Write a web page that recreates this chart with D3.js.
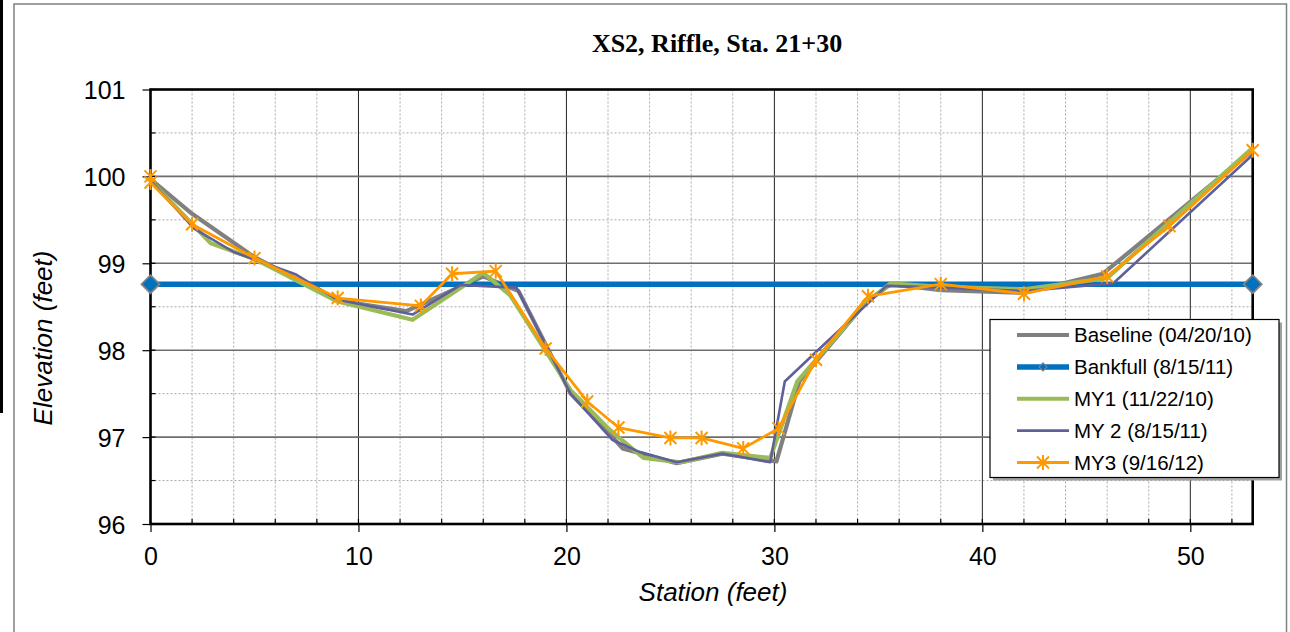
<!DOCTYPE html>
<html><head><meta charset="utf-8">
<script src="https://cdn.jsdelivr.net/npm/d3@7"></script>
<style>body{margin:0;background:#fff;overflow:hidden}</style>
</head><body>
<svg id="c" width="1290" height="632"></svg>
<script>
const chartTitle = "XS2, Riffle, Sta. 21+30";
const xTitle = "Station (feet)";
const yTitle = "Elevation (feet)";
const xTicks = [0, 10, 20, 30, 40, 50];
const yTicks = [96, 97, 98, 99, 100, 101];
const xDomain = [0, 53];
const yDomain = [96, 101];
const legendLabels = ["Baseline (04/20/10)", "Bankfull (8/15/11)", "MY1 (11/22/10)", "MY 2 (8/15/11)", "MY3 (9/16/12)"];

const baseline = [[0,99.97],[2,99.57],[5,99.07],[9,98.57],[12.3,98.45],[14.9,98.73],[16,98.85],[17.7,98.68],[20.2,97.5],[22.1,97.03],[22.7,96.87],[25.3,96.7],[27.5,96.81],[30.1,96.72],[31.2,97.64],[34.4,98.55],[35.6,98.76],[38,98.69],[42,98.66],[45.8,98.88],[53,100.3]];
const bankfull = [[0,98.76],[53,98.76]];
const my1 = [[0,99.95],[2.9,99.23],[5,99.05],[9,98.56],[12.6,98.35],[16,98.89],[17.3,98.63],[20.2,97.54],[22.1,97.08],[23.7,96.76],[25.5,96.71],[27.5,96.82],[29.8,96.76],[31.1,97.64],[34.4,98.55],[35.6,98.77],[38,98.73],[42,98.7],[46,98.83],[53,100.33]];
const my2 = [[0,99.95],[2.1,99.4],[4,99.13],[7,98.87],[9,98.58],[12.6,98.41],[14.9,98.75],[17.6,98.72],[20.2,97.5],[22.2,96.97],[23.5,96.83],[25.3,96.71],[27.5,96.81],[29.8,96.71],[30.5,97.64],[32,97.98],[35.4,98.74],[38,98.72],[42,98.68],[46.3,98.77],[53,100.25]];
const my3 = [[0,100.0],[0,99.93],[2,99.45],[5,99.06],[9,98.6],[13,98.51],[14.5,98.88],[16.6,98.91],[19,98.02],[21,97.41],[22.5,97.11],[25,96.99],[26.5,96.99],[28.5,96.87],[30.2,97.1],[32,97.89],[34.5,98.62],[38,98.76],[42,98.65],[46,98.85],[49,99.43],[53,100.3]];

const svg = d3.select("#c");
const L = 150.5, R = 1252.7, T = 89.5, B = 524;
const x = d3.scaleLinear().domain(xDomain).range([L, R]);
const y = d3.scaleLinear().domain(yDomain).range([B, T]);

// decorations: outer chart border
svg.append("rect").attr("x", 0).attr("y", 0).attr("width", 3).attr("height", 413).attr("fill", "#000");
svg.append("rect").attr("x", 14).attr("y", 4).attr("width", 1272.5).attr("height", 700)
  .attr("fill", "none").attr("stroke", "#808080").attr("stroke-width", 1.5);

const g = svg.append("g");
// minor grid
const xMinor = d3.range(xDomain[0] + 2, xDomain[1] + 0.01, 2).filter(v => v % 10 !== 0);
const yMinor = d3.range(yDomain[0] + 0.5, yDomain[1], 1);
g.selectAll(".xm").data(xMinor).join("line")
  .attr("x1", d => x(d)).attr("x2", d => x(d)).attr("y1", T).attr("y2", B)
  .attr("stroke", "#a8a8a8").attr("stroke-width", 1).attr("stroke-dasharray", "2,2");
g.selectAll(".ym").data(yMinor).join("line")
  .attr("x1", L).attr("x2", R).attr("y1", d => y(d)).attr("y2", d => y(d))
  .attr("stroke", "#a8a8a8").attr("stroke-width", 1).attr("stroke-dasharray", "2,2");
// major grid
g.selectAll(".xM").data(xTicks.slice(1)).join("line")
  .attr("x1", d => x(d)).attr("x2", d => x(d)).attr("y1", T).attr("y2", B)
  .attr("stroke", "#222").attr("stroke-width", 1);
g.selectAll(".yM").data(yTicks.slice(1, -1)).join("line")
  .attr("x1", L).attr("x2", R).attr("y1", d => y(d)).attr("y2", d => y(d))
  .attr("stroke", "#6e6e6e").attr("stroke-width", 1.6);

// inner minor ticks
g.selectAll(".xmt").data(xMinor).join("line")
  .attr("x1", d => x(d)).attr("x2", d => x(d)).attr("y1", B - 5).attr("y2", B)
  .attr("stroke", "#000").attr("stroke-width", 1.2);
g.selectAll(".ymt").data(yMinor).join("line")
  .attr("x1", L).attr("x2", L + 5).attr("y1", d => y(d)).attr("y2", d => y(d))
  .attr("stroke", "#000").attr("stroke-width", 1.2);
g.selectAll(".xMt").data(xTicks).join("line")
  .attr("x1", d => x(d)).attr("x2", d => x(d)).attr("y1", B - 5).attr("y2", B)
  .attr("stroke", "#000").attr("stroke-width", 1.2);
g.selectAll(".yMt").data(yTicks).join("line")
  .attr("x1", L).attr("x2", L + 5).attr("y1", d => y(d)).attr("y2", d => y(d))
  .attr("stroke", "#000").attr("stroke-width", 1.2);

// axes (outer ticks + labels)
const xAxis = svg.append("g").attr("transform", `translate(0,${B})`)
  .call(d3.axisBottom(x).tickValues(xTicks).tickSize(8).tickFormat(d3.format("d")));
const yAxis = svg.append("g").attr("transform", `translate(${L},0)`)
  .call(d3.axisLeft(y).tickValues(yTicks).tickSize(8).tickFormat(d3.format("d")));
[xAxis, yAxis].forEach(a => {
  a.select(".domain").remove();
  a.selectAll(".tick line").attr("stroke", "#000").attr("stroke-width", 1.2);
  a.selectAll(".tick text").attr("font-family", "Liberation Sans, Arial, sans-serif")
    .attr("font-size", 25).attr("fill", "#000");
});
xAxis.selectAll(".tick text").attr("dy", null).attr("y", 41);
yAxis.selectAll(".tick text").attr("x", -25).attr("dy", "0.36em");

// plot border
svg.append("rect").attr("x", L).attr("y", T).attr("width", R - L).attr("height", B - T)
  .attr("fill", "none").attr("stroke", "#000").attr("stroke-width", 2.6);

// series
const line = d3.line().x(d => x(d[0])).y(d => y(d[1]));
const styles = [
  {data: baseline, color: "#808080", w: 4.2},
  {data: bankfull, color: "#0070C0", w: 5.5},
  {data: my1, color: "#9BBB59", w: 4.2},
  {data: my2, color: "#5F5F9A", w: 2.6},
  {data: my3, color: "#FF9900", w: 2.8}
];
const sg = svg.append("g");
styles.forEach((s, i) => {
  sg.append("path").datum(s.data).attr("d", line).attr("fill", "none")
    .attr("stroke", s.color).attr("stroke-width", s.w)
    .attr("stroke-linejoin", "round").attr("stroke-linecap", "butt");
  if (i === 1) {
    sg.selectAll(".dm").data(s.data).join("path")
      .attr("transform", d => `translate(${x(d[0])},${y(d[1])})`)
      .attr("d", "M0,-9L9,0L0,9L-9,0Z").attr("fill", "#0070C0")
      .attr("stroke", "#808080").attr("stroke-width", 1.8);
  }
  if (i === 4) {
    sg.selectAll(".st").data(s.data).join("path")
      .attr("transform", d => `translate(${x(d[0])},${y(d[1])})`)
      .attr("d", "M-6,-6L6,6M-6,6L6,-6M0,-7.5L0,7.5").attr("fill", "none")
      .attr("stroke", "#FF9900").attr("stroke-width", 2);
  }
});

// titles
svg.append("text").attr("x", 717).attr("y", 52).attr("text-anchor", "middle")
  .attr("font-family", "Liberation Serif, Times New Roman, serif").attr("font-weight", "bold")
  .attr("font-size", 26).text(chartTitle);
svg.append("text").attr("x", 713).attr("y", 601).attr("text-anchor", "middle")
  .attr("font-family", "Liberation Sans, Arial, sans-serif").attr("font-style", "italic")
  .attr("font-size", 26).text(xTitle);
svg.append("text").attr("transform", "translate(52,338) rotate(-90)").attr("text-anchor", "middle")
  .attr("font-family", "Liberation Sans, Arial, sans-serif").attr("font-style", "italic")
  .attr("font-size", 26).text(yTitle);

// legend
const lg = svg.append("g");
const lx = 990, ly = 319.5, lw = 289, lh = 158;
lg.append("rect").attr("x", lx + 3).attr("y", ly + 3).attr("width", lw).attr("height", lh).attr("fill", "#a0a0a0");
lg.append("rect").attr("x", lx).attr("y", ly).attr("width", lw).attr("height", lh)
  .attr("fill", "#fff").attr("stroke", "#000").attr("stroke-width", 1.2);
const rowY = d3.scaleLinear().domain([0, legendLabels.length - 1]).range([ly + 15.5, ly + 143]);
legendLabels.forEach((lab, i) => {
  const yy = rowY(i), s = styles[i];
  lg.append("line").attr("x1", 1017).attr("x2", 1069).attr("y1", yy).attr("y2", yy)
    .attr("stroke", s.color).attr("stroke-width", s.w);
  if (i === 1) lg.append("path").attr("transform", `translate(1043,${yy})`)
    .attr("d", "M0,-4L4,0L0,4L-4,0Z").attr("fill", "#0070C0").attr("stroke", "#808080").attr("stroke-width", 1.2);
  if (i === 4) lg.append("path").attr("transform", `translate(1043,${yy})`)
    .attr("d", "M-6,-6L6,6M-6,6L6,-6M0,-7.5L0,7.5").attr("stroke", "#FF9900").attr("stroke-width", 2);
  lg.append("text").attr("x", 1074).attr("y", yy).attr("dy", "0.36em")
    .attr("font-family", "Liberation Sans, Arial, sans-serif").attr("font-size", 20.5).text(lab);
});
</script>
</body></html>
